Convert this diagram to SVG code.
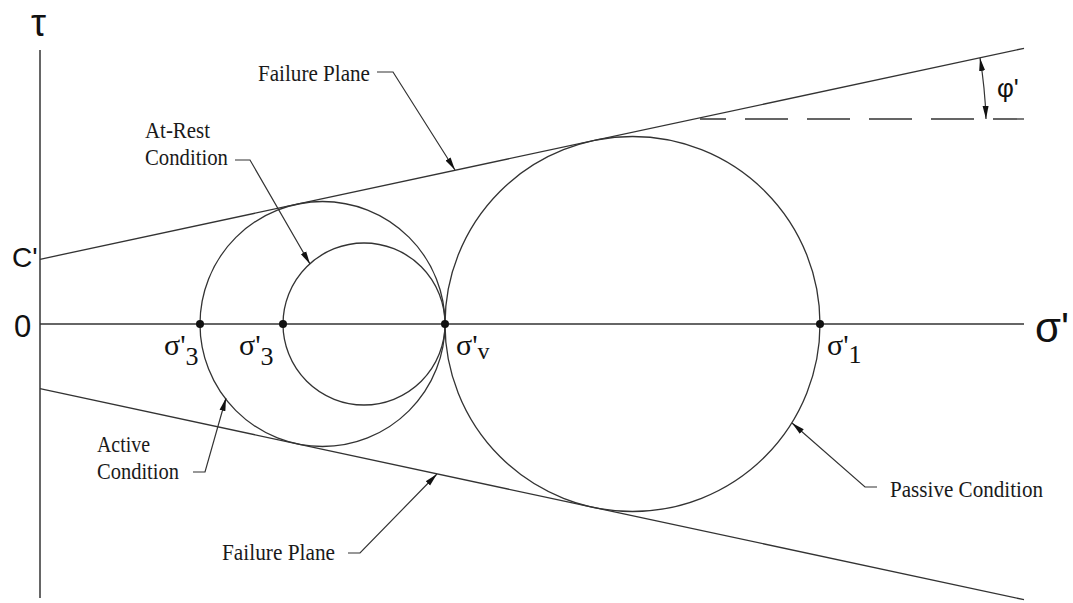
<svg xmlns="http://www.w3.org/2000/svg" width="1073" height="603" viewBox="0 0 1073 603">
<style>
.ax{stroke:#333;stroke-width:1.5;fill:none}
.ln{stroke:#333;stroke-width:1.3;fill:none}
.cir{stroke:#333;stroke-width:1.3;fill:none}
.ld{stroke:#333;stroke-width:1.2;fill:none}
.dot{fill:#111}
.lbl{font-family:"Liberation Serif",serif;font-size:24px;fill:#1a1a1a}
.sym{font-family:"Liberation Serif",serif;font-size:30px;fill:#111}
.big{font-family:"Liberation Sans",Arial,sans-serif;fill:#111}
</style>
<defs>
<marker id="arr" markerUnits="userSpaceOnUse" markerWidth="14" markerHeight="8" refX="13" refY="4" orient="auto-start-reverse">
<path d="M0,1 L13,4 L0,7 z" fill="#111"/>
</marker>
</defs>
<rect width="1073" height="603" fill="#fff"/>
<g id="axes">
<line class="ax" x1="40" y1="50" x2="40" y2="598"/>
<line class="ax" x1="40" y1="324" x2="1024" y2="324"/>
<text class="big" x="31" y="36" font-size="38">τ</text>
<text class="big" x="1035" y="342" font-size="42">σ'</text>
<text class="big" x="12" y="267" font-size="28">C'</text>
<text class="big" x="14" y="337" font-size="31">0</text>
</g>
<g id="failure-upper">
<line class="ln" x1="40" y1="259.3" x2="1024" y2="48.3"/>
</g>
<g id="failure-lower">
<line class="ln" x1="40" y1="388.7" x2="1024" y2="599.7"/>
</g>
<g id="phi">
<line class="ln" x1="1024" y1="119" x2="700" y2="119" stroke-dasharray="43 19" stroke-dashoffset="12"/>
<path class="ld" d="M980,58 Q985,88 986,119" marker-start="url(#arr)" marker-end="url(#arr)"/>
<text class="big" x="997" y="97" font-size="26">φ'</text>
</g>
<g id="active-circle">
<circle class="cir" cx="322.5" cy="324" r="122.5"/>
</g>
<g id="atrest-circle">
<circle class="cir" cx="364" cy="324" r="81"/>
</g>
<g id="passive-circle">
<circle class="cir" cx="632.5" cy="324" r="187.5"/>
</g>
<g id="points">
<circle class="dot" cx="200" cy="324" r="4"/>
<circle class="dot" cx="283" cy="324" r="4"/>
<circle class="dot" cx="445" cy="324" r="4"/>
<circle class="dot" cx="820" cy="324" r="4"/>
<text class="sym" x="164" y="355">σ'<tspan font-size="26" dy="10">3</tspan></text>
<text class="sym" x="239" y="355">σ'<tspan font-size="26" dy="10">3</tspan></text>
<text class="sym" x="456" y="355">σ'<tspan font-size="24" dy="4">v</tspan></text>
<text class="sym" x="827" y="355">σ'<tspan font-size="26" dy="8">1</tspan></text>
</g>
<g id="connectors">
<path class="ld" d="M377,72 L393,72 L455,170" marker-end="url(#arr)"/>
<path class="ld" d="M235,160 L250,160 L310,264" marker-end="url(#arr)"/>
<path class="ld" d="M193,472 L205,472 L226,398" marker-end="url(#arr)"/>
<path class="ld" d="M348,553 L360,553 L437,474" marker-end="url(#arr)"/>
<path class="ld" d="M877,487 L865,487 L792,423" marker-end="url(#arr)"/>
</g>
<g id="label-failure-top"><text class="lbl" x="258" y="81" textLength="112" lengthAdjust="spacingAndGlyphs">Failure Plane</text></g>
<g id="label-atrest">
<text class="lbl" x="145" y="138" textLength="65" lengthAdjust="spacingAndGlyphs">At-Rest</text>
<text class="lbl" x="145" y="165" textLength="83" lengthAdjust="spacingAndGlyphs">Condition</text>
</g>
<g id="label-active">
<text class="lbl" x="97" y="452" textLength="53" lengthAdjust="spacingAndGlyphs">Active</text>
<text class="lbl" x="97" y="479" textLength="82" lengthAdjust="spacingAndGlyphs">Condition</text>
</g>
<g id="label-failure-bottom"><text class="lbl" x="222" y="560" textLength="113" lengthAdjust="spacingAndGlyphs">Failure Plane</text></g>
<g id="label-passive"><text class="lbl" x="890" y="497" textLength="153" lengthAdjust="spacingAndGlyphs">Passive Condition</text></g>
</svg>
